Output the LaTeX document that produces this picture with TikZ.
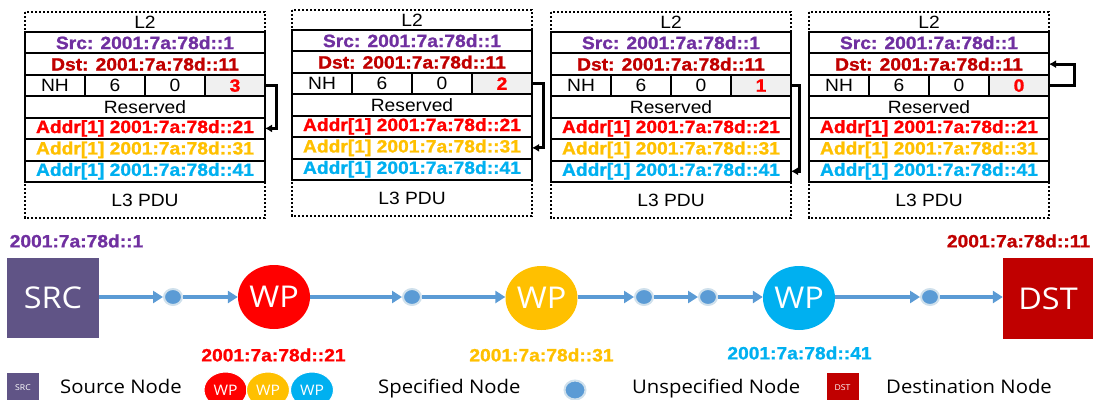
\documentclass[tikz,border=0pt]{standalone}
\usepackage{fontspec}
\setmainfont{Liberation Sans}[FakeStretch=1.08, BoldFeatures={FakeBold=1.2}]
\newfontfamily\uifont{Open Sans}[FakeStretch=1.08]
\usetikzlibrary{arrows.meta,shapes.geometric}

\definecolor{srcpurple}{HTML}{7030A0}
\definecolor{dstred}{HTML}{C00000}
\definecolor{wpred}{HTML}{FF0000}
\definecolor{wpyellow}{HTML}{FFC000}
\definecolor{wpblue}{HTML}{00B0F0}
\definecolor{srcfill}{HTML}{605486}
\definecolor{linkblue}{HTML}{5B9BD5}
\definecolor{dotglow}{HTML}{CFE0EC}
\definecolor{cellgrey}{HTML}{F0F0F0}

\tikzset{
  boxtext/.style={font=\fontsize{17.8}{20}\selectfont, inner sep=0pt},
  addr/.style={font=\fontsize{17.8}{20}\selectfont\bfseries},
  cell/.style={draw, line width=2pt, anchor=north west, inner sep=0pt,
    outer sep=0pt, minimum height=21.43pt, boxtext},
  rowbox/.style={cell, minimum width=240pt},
  nhcell/.style={cell, minimum width=60pt},
  outerdash/.style={line width=1.5pt, dash pattern=on 2.2pt off 1.8pt},
  segptr/.style={draw=black, line width=3pt, -{Latex[length=7pt,width=8pt]}},
  pics/pdu/.style={code={
    \draw[outerdash] (0,0) rectangle (240,206);
    \node[boxtext] (-l2) at (120,10) {L2};
    \node[rowbox, addr, text=srcpurple] (-src) at (0,20) {Src: 2001:7a:78d::1};
    \node[rowbox, addr, text=dstred] (-dst) at (0,41.43) {Dst: 2001:7a:78d::11};
    \node[nhcell] (-n1) at (0,62.86) {NH};
    \node[nhcell] (-n2) at (60,62.86) {6};
    \node[nhcell] (-n3) at (120,62.86) {0};
    \node[nhcell, addr, fill=cellgrey, text=wpred] (-n4) at (180,62.86) {#1};
    \node[rowbox] (-res) at (0,84.29) {Reserved};
    \node[rowbox, addr, text=wpred] (-a21) at (0,105.71) {Addr[1] 2001:7a:78d::21};
    \node[rowbox, addr, text=wpyellow] (-a31) at (0,127.14) {Addr[1] 2001:7a:78d::31};
    \node[rowbox, addr, text=wpblue] (-a41) at (0,148.57) {Addr[1] 2001:7a:78d::41};
    \node[boxtext] (-pdu) at (120,188) {L3 PDU};
  }},
  bigtext/.style={text=white, font=\uifont\fontsize{30}{30}\selectfont, inner sep=0pt},
  srcbox/.style={fill=srcfill, minimum width=92pt, minimum height=80pt, bigtext},
  dstbox/.style={fill=dstred, minimum width=90pt, minimum height=81pt, bigtext},
  wp/.style={ellipse, minimum width=72pt, minimum height=64pt, bigtext},
  relay/.style={ellipse, fill=linkblue, draw=dotglow, line width=2pt,
    minimum width=18pt, minimum height=16pt, inner sep=0pt},
  hopline/.style={draw=linkblue, line width=4.2pt,
    -{Triangle[length=10pt,width=12pt,fill=linkblue]}},
  addrlbl/.style={font=\fontsize{17.8}{20}\selectfont\bfseries, inner sep=0pt},
  legtxt/.style={font=\uifont\fontsize{18.8}{20}\selectfont, anchor=base west, inner sep=0pt},
  legwp/.style={ellipse, draw=white, line width=1pt, minimum width=43pt, minimum height=36pt,
    inner sep=0pt, text=white, font=\uifont\fontsize{14.5}{15}\selectfont},
  legbox/.style={minimum width=32pt, minimum height=30pt, inner sep=0pt,
    text=white, font=\uifont\fontsize{8}{8}\selectfont},
}

\begin{document}
\begin{tikzpicture}[x=1pt, y=-1pt]
  \useasboundingbox (0,0) rectangle (1094,399);
  \clip (0,0) rectangle (1094,399);

  % packet headers at each hop
  \pic (b1) at (25,12) {pdu=3};
  \pic (b2) at (292,10) {pdu=2};
  \pic (b3) at (551,12) {pdu=1};
  \pic (b4) at (809,12) {pdu=0};

  % segments-left pointer
  \draw[segptr] (b1-n4.east) -- ++(11,0) |- (b1-a21.east);
  \draw[segptr] (b2-n4.east) -- ++(11,0) |- (b2-a31.east);
  \draw[segptr] (b3-n4.east) -- ++(8,0) |- (b3-a41.east);
  \draw[segptr] (b4-n4.east) -- ++(25,0) |- (b4-dst.east);

  % path from source to destination
  \node[srcbox] (src) at (53,298) {SRC};
  \node[dstbox] (dst) at (1048,298.5) {DST};
  \node[wp, fill=wpred] (wp1) at (274,297) {WP};
  \node[wp, fill=wpyellow] (wp2) at (541.5,298) {WP};
  \node[wp, fill=wpblue] (wp3) at (799,298) {WP};
  \node[relay] (d1) at (173,297) {};
  \node[relay] (d2) at (412,297) {};
  \node[relay] (d3) at (644,297) {};
  \node[relay] (d4) at (708,297) {};
  \node[relay] (d5) at (930,297) {};

  \draw[hopline] (src.east |- d1) -- (d1);
  \draw[hopline] (d1) -- (d1 -| wp1.west);
  \draw[hopline] (wp1.east |- d2) -- (d2);
  \draw[hopline] (d2) -- (d2 -| wp2.west);
  \draw[hopline] (wp2.east |- d3) -- (d3);
  \draw[hopline] (d3) -- (d4);
  \draw[hopline] (d4) -- (d4 -| wp3.west);
  \draw[hopline] (wp3.east |- d5) -- (d5);
  \draw[hopline] (d5) -- (d5 -| dst.west);

  % addresses
  \node[addrlbl, text=srcpurple] (srcaddr) at (76.5,241) {2001:7a:78d::1};
  \node[addrlbl, text=dstred] (dstaddr) at (1018.5,241) {2001:7a:78d::11};
  \node[addrlbl, text=wpred] (wp1addr) at (273.5,355) {2001:7a:78d::21};
  \node[addrlbl, text=wpyellow] (wp2addr) at (541.5,355) {2001:7a:78d::31};
  \node[addrlbl, text=wpblue] (wp3addr) at (799.5,353) {2001:7a:78d::41};

  % legend
  \node[legbox, fill=srcfill] (lsrc) at (23,388) {SRC};
  \node[legtxt] (lsrctxt) at (60,393.5) {Source Node};
  \node[legwp, fill=wpred] (lwp1) at (225.5,390) {WP};
  \node[legwp, fill=wpyellow] (lwp2) at (268,390) {WP};
  \node[legwp, fill=wpblue] (lwp3) at (312,390) {WP};
  \node[legtxt] (lspectxt) at (378,393.5) {Specified Node};
  \node[relay, minimum width=21pt, minimum height=19pt] (ldot) at (575,390) {};
  \node[legtxt] (lunspectxt) at (632,393.5) {Unspecified Node};
  \node[legbox, fill=dstred] (ldst) at (842.5,388) {DST};
  \node[legtxt] (ldsttxt) at (886,393.5) {Destination Node};
\end{tikzpicture}
\end{document}
